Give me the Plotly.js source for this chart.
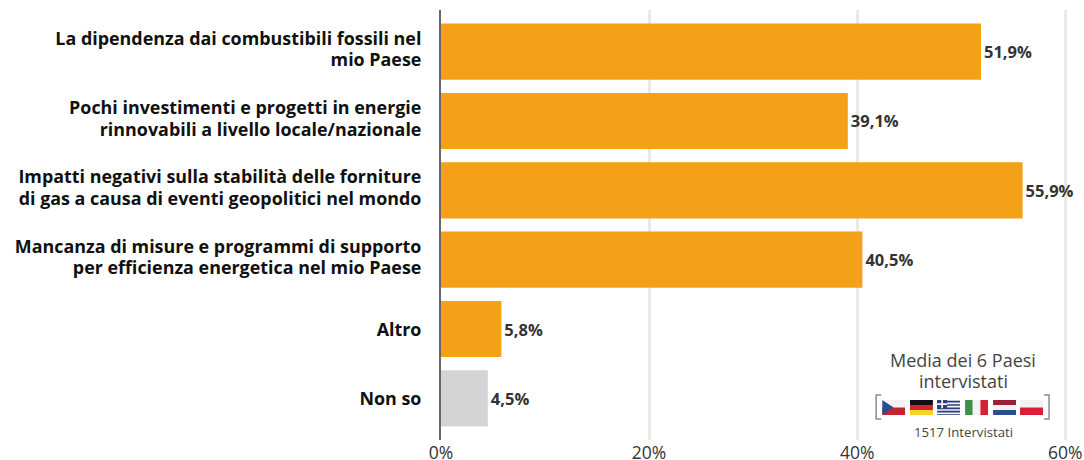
<!DOCTYPE html>
<html>
<head>
<meta charset="utf-8">
<script src="https://cdn.plot.ly/plotly-3.0.1.min.js"></script>
<style>html,body{margin:0;padding:0;background:#fff}</style>
</head>
<body>
<div id="chart" style="width:1084px;height:460px"></div>
<script>
const categories = [
  "La dipendenza dai combustibili fossili nel<br>mio Paese",
  "Pochi investimenti e progetti in energie<br>rinnovabili a livello locale/nazionale",
  "Impatti negativi sulla stabilità delle forniture<br>di gas a causa di eventi geopolitici nel mondo",
  "Mancanza di misure e programmi di supporto<br>per efficienza energetica nel mio Paese",
  "Altro",
  "Non so"
];
const values = [51.9, 39.1, 55.9, 40.5, 5.8, 4.5];
const valueLabels = ["51,9%", "39,1%", "55,9%", "40,5%", "5,8%", "4,5%"];
const barColors = ["#F4A118", "#F4A118", "#F4A118", "#F4A118", "#F4A118", "#D4D4D4"];
const xTicks = [0, 20, 40, 60];
const xTickLabels = ["0%", "20%", "40%", "60%"];

// Small flag artwork for the six surveyed countries
const flagBodies = [
  '<rect width="46" height="15" fill="#f2f2f2"/><rect y="15" width="46" height="15" fill="#c4242f"/><path d="M0 0L23 15L0 30Z" fill="#264f8c"/>',
  '<rect width="46" height="10" fill="#111"/><rect y="10" width="46" height="10" fill="#d8232a"/><rect y="20" width="46" height="10" fill="#f7d32a"/>',
  '<rect width="46" height="30" fill="#f4f4f4"/><path d="M0 3.3H46M0 10H46M0 16.7H46M0 23.3H46M0 30H46" stroke="#2b3f7e" stroke-width="3.4"/><rect width="20" height="16.7" fill="#2b3f7e"/><path d="M10 0V16.7M0 8.3H20" stroke="#f4f4f4" stroke-width="3.4"/>',
  '<rect width="15.3" height="30" fill="#3a9148"/><rect x="15.3" width="15.4" height="30" fill="#f2f2f2"/><rect x="30.7" width="15.3" height="30" fill="#d91f36"/>',
  '<rect width="46" height="10" fill="#9c1f35"/><rect y="10" width="46" height="10" fill="#f2f2f2"/><rect y="20" width="46" height="10" fill="#2d4b8f"/>',
  '<rect width="46" height="15" fill="#f2f2f2"/><rect y="15" width="46" height="15" fill="#d91f36"/>'
];
const flagLeftEdges = [882, 909.8, 937, 965, 993, 1020];
const flagTop = 400;
const W = 1084, H = 460;
const plotLeft = 440.5, plotTop = 10, plotBottom = 440;
const plotWidth = W - plotLeft, plotHeight = plotBottom - plotTop;

// Page pixels to paper fractions
const px = v => (v - plotLeft) / plotWidth;
const py = v => (plotBottom - v) / plotHeight;

const images = flagBodies.map((body, i) => ({
  source: "data:image/svg+xml;charset=utf-8," + encodeURIComponent(
    '<svg xmlns="http://www.w3.org/2000/svg" width="46" height="30" viewBox="0 0 46 30" preserveAspectRatio="none">' + body + '</svg>'),
  xref: "paper", yref: "paper",
  x: px(flagLeftEdges[i]),
  y: py(flagTop),
  sizex: 23 / plotWidth,
  sizey: 15 / plotHeight,
  xanchor: "left", yanchor: "top",
  sizing: "stretch", layer: "above"
}));

// Square brackets round the row of flags
const bracket = (xOuter, xInner) => ({
  type: "path", xref: "paper", yref: "paper",
  path: `M ${px(xInner)} ${py(395)} L ${px(xOuter)} ${py(395)} L ${px(xOuter)} ${py(419)} L ${px(xInner)} ${py(419)}`,
  line: {color: "#8c8c8c", width: 1.5}, layer: "above"
});

const note = (text, yPos, size) => ({
  xref: "paper", yref: "paper", x: px(963), y: py(yPos), xanchor: "center", yanchor: "middle",
  text: text, showarrow: false, font: {family: "Open Sans", size: size, color: "#444444"}
});

const trace = {
  type: "bar",
  orientation: "h",
  y: categories.map(c => "<b>" + c + "</b>"),
  x: values,
  width: 0.81,
  marker: {color: barColors, line: {width: 0}},
  text: valueLabels.map(t => "<b>" + t + "</b>"),
  textposition: "outside",
  cliponaxis: false,
  textfont: {family: "Open Sans", size: 16.5, color: "#333333"},
  hoverinfo: "skip"
};

const layout = {
  width: W, height: H,
  margin: {l: plotLeft, r: 0, t: plotTop, b: H - plotBottom, pad: 0},
  paper_bgcolor: "#ffffff",
  plot_bgcolor: "#ffffff",
  showlegend: false,
  font: {family: "Open Sans", color: "#333333"},
  xaxis: {
    range: [0, 61.8], fixedrange: true,
    tickvals: xTicks, ticktext: xTickLabels,
    tickfont: {family: "Open Sans", size: 17.5, color: "#333333"},
    showgrid: true, gridcolor: "#e9e9e9", gridwidth: 3,
    zeroline: false, showline: false, ticks: "", automargin: false
  },
  yaxis: {
    autorange: false, range: [5.6, -0.6], fixedrange: true, type: "category",
    tickfont: {family: "Open Sans", size: 17.9, color: "#111111"},
    showline: true, linecolor: "#666666", linewidth: 2,
    showgrid: false, zeroline: false, ticks: "", ticklabelstandoff: 14, automargin: false
  },
  images: images,
  shapes: [bracket(876, 881), bracket(1049, 1044)],
  annotations: [
    note("Media dei 6 Paesi", 360, 18),
    note("intervistati", 381, 18),
    note("1517 Intervistati", 432, 13.2)
  ]
};

Plotly.newPlot("chart", [trace], layout, {displayModeBar: false, staticPlot: true}).then(gd => {
  // Tighten the leading of the two-line category labels
  gd.querySelectorAll(".ytick text").forEach(label => {
    const lines = label.querySelectorAll("tspan.line");
    if (lines.length === 2) {
      lines[1].setAttribute("dy", "1.2em");
      const t = label.getAttribute("transform") || "";
      label.setAttribute("transform", t + " translate(0,-1.5)");
    } else {
      const t = label.getAttribute("transform") || "";
      label.setAttribute("transform", t + " translate(0,0.5)");
    }
  });
});
</script>
</body>
</html>
